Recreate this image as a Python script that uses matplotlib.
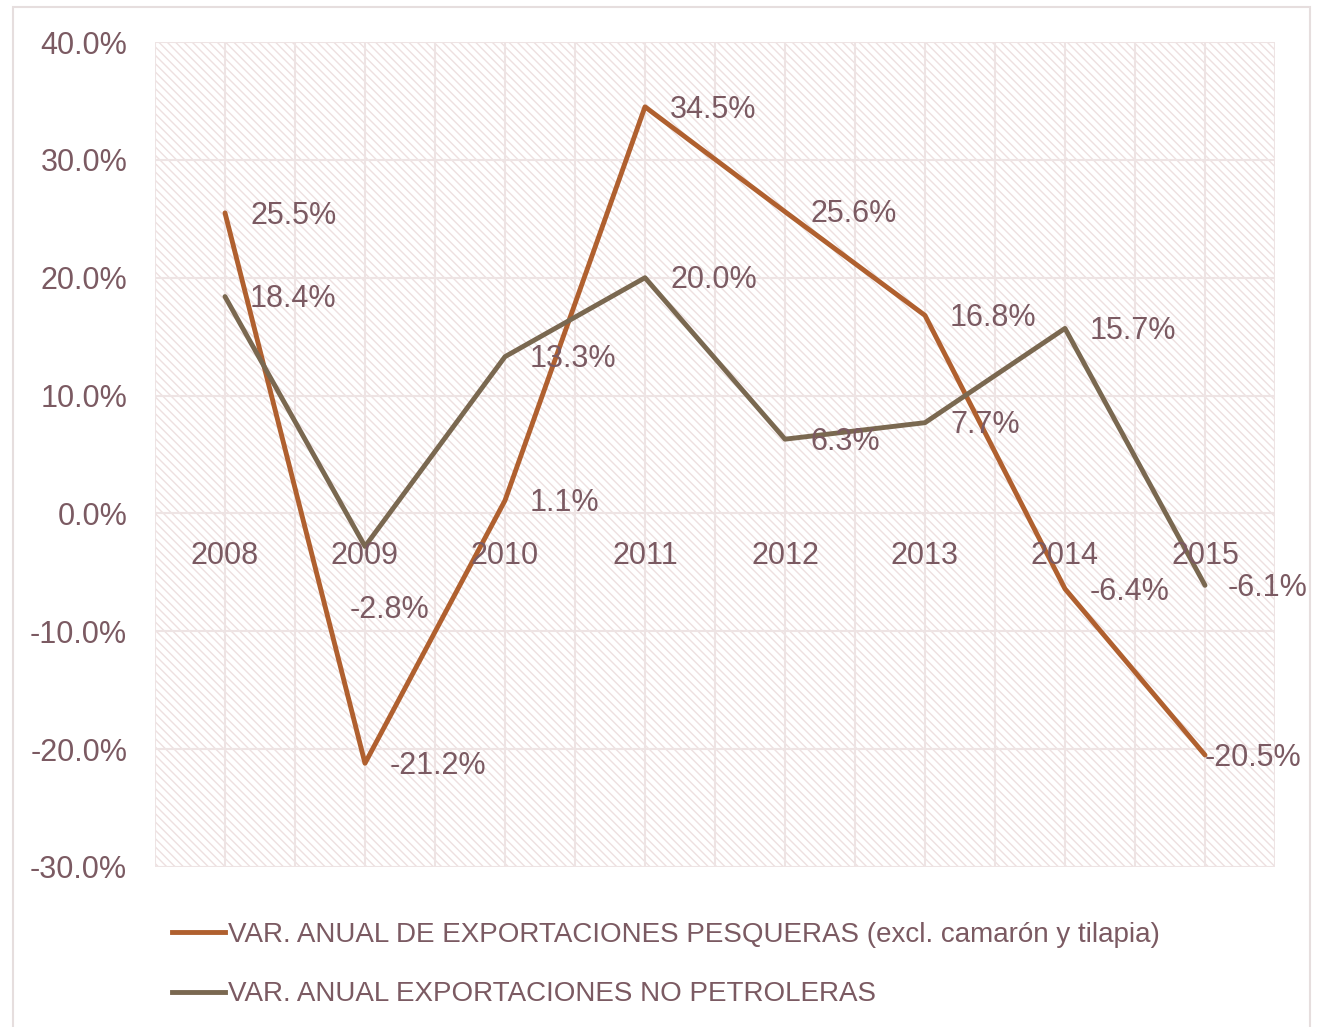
import numpy as np
import matplotlib.pyplot as plt
from matplotlib.patches import Rectangle
from matplotlib.lines import Line2D

# data
years = ['2008', '2009', '2010', '2011', '2012', '2013', '2014', '2015']
pesqueras = [25.5, -21.2, 1.1, 34.5, 25.6, 16.8, -6.4, -20.5]
no_petroleras = [18.4, -2.8, 13.3, 20.0, 6.3, 7.7, 15.7, -6.1]
label_pesq = 'VAR. ANUAL DE EXPORTACIONES PESQUERAS (excl. camarón y tilapia)'
label_nopet = 'VAR. ANUAL EXPORTACIONES NO PETROLERAS'

c_pesq = '#B0602F'
c_nopet = '#7A6850'
c_text = '#7B5A62'
c_grid = '#EEE4E4'

fs = 22
plt.rcParams['font.family'] = ['Liberation Sans', 'DejaVu Sans']

fig = plt.figure(figsize=(13.24, 10.27), dpi=100)
W, H = 1324, 1027

# outer frame
fig.patches.append(Rectangle((13 / W, -0.01), (1310 - 13) / W, 1 - 7 / H + 0.01,
                             transform=fig.transFigure, fill=False,
                             edgecolor='#E6DEDE', linewidth=1.5))

ax = fig.add_axes([155 / W, 1 - 867 / H, (1275 - 155) / W, (867 - 42) / H])
x = np.arange(len(years))
ax.set_xlim(-0.5, len(years) - 0.5)
ax.set_ylim(-30, 40)

# hatched background
ax.add_patch(Rectangle((0, 0), 1, 1, transform=ax.transAxes, facecolor='white',
                       edgecolor='#EEE0E0', hatch='\\\\\\\\', linewidth=0, zorder=0))

for s in ax.spines.values():
    s.set_visible(False)

for yv in np.arange(-30, 41, 10):
    ax.axhline(yv, color=c_grid, lw=1.5, zorder=1)
for xv in np.arange(-0.5, len(years), 0.5):
    ax.axvline(xv, color=c_grid, lw=1.5, zorder=1)

ax.set_yticks(np.arange(-30, 41, 10))
ax.set_yticklabels(['%.1f%%' % v for v in np.arange(-30, 41, 10)])
ax.tick_params(axis='y', length=0, pad=20, labelsize=fs, labelcolor=c_text)
ax.set_xticks([])

for i, yr in enumerate(years):
    ax.text(i, -3.6, yr, ha='center', va='center', fontsize=fs, color=c_text, zorder=4)

ax.plot(x, pesqueras, color=c_pesq, lw=3.5, zorder=3, solid_capstyle='round')
ax.plot(x, no_petroleras, color=c_nopet, lw=3.5, zorder=3, solid_capstyle='round')

# data labels (offsets in points)
off_pesq = [(18, -2)] * 8
off_pesq[7] = (0, -2)
off_nopet = [(18, -2)] * 8
off_nopet[1] = (-11, -46)  # sits under the point
off_nopet[7] = (16, -2)

for i, v in enumerate(pesqueras):
    ax.annotate('%.1f%%' % v, (i, v), xytext=off_pesq[i], textcoords='offset points',
                ha='left', va='center', fontsize=fs, color=c_text, zorder=4)
for i, v in enumerate(no_petroleras):
    ax.annotate('%.1f%%' % v, (i, v), xytext=off_nopet[i], textcoords='offset points',
                ha='left', va='center', fontsize=fs, color=c_text, zorder=4)

# legend
handles = [Line2D([], [], color=c_pesq, lw=3.5), Line2D([], [], color=c_nopet, lw=3.5)]
leg = fig.legend(handles, [label_pesq, label_nopet], loc='upper left',
                 bbox_to_anchor=(147 / W, 1 - 897 / H), frameon=False,
                 handlelength=1.9, handletextpad=0.12, labelspacing=1.2,
                 prop={'size': 20})
for t in leg.get_texts():
    t.set_color(c_text)

fig.savefig('out.png', dpi=100)
